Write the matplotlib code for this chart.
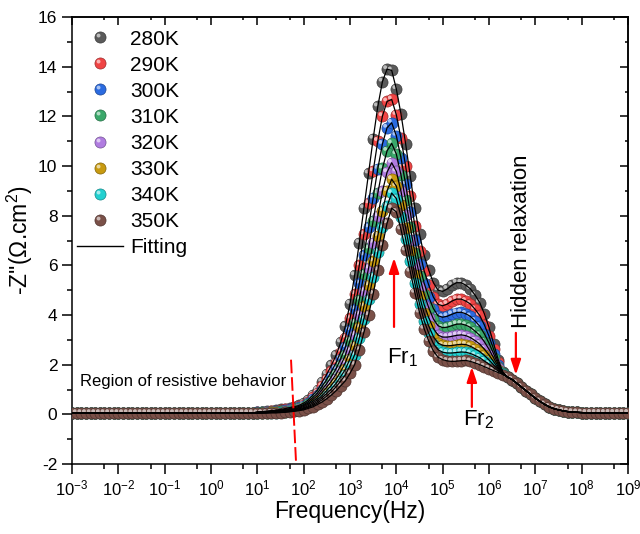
import matplotlib
matplotlib.use('Agg')
import matplotlib.pyplot as plt
import numpy as np
from matplotlib.path import Path
from matplotlib.lines import Line2D
from matplotlib.legend_handler import HandlerTuple
from matplotlib.ticker import LogLocator, NullFormatter, MultipleLocator, LogFormatterSciNotation
from matplotlib.colors import to_rgb

plt.rcParams['font.family'] = ['Liberation Sans', 'DejaVu Sans']
plt.rcParams['mathtext.fontset'] = 'custom'
plt.rcParams['mathtext.rm'] = 'Liberation Sans'
plt.rcParams['mathtext.it'] = 'Liberation Sans:italic'
plt.rcParams['axes.unicode_minus'] = False

# frequency sweep: 10 points per decade, 1e-3 .. 1e9 Hz
freq = 10.0 ** (np.arange(-30, 91) / 10)

# resistive region (1e-3 .. 10^0.9 Hz), same for every temperature
baseline = [0.05] * 40

# 10^1.0 .. 10^6.3 Hz
mid = {
    '280K': [0.10, 0.11, 0.13, 0.15, 0.17, 0.20, 0.23, 0.27, 0.30, 0.36,
             0.45, 0.58, 0.78, 0.98, 1.30, 1.62, 1.98, 2.38, 2.90, 3.55,
             4.45, 5.60, 6.90, 8.30, 9.70, 11.10, 12.40, 13.40, 13.90, 13.85,
             13.10, 12.10, 10.90, 9.60, 8.30, 7.25, 6.40, 5.80, 5.30, 5.00,
             4.95, 5.05, 5.20, 5.30, 5.30, 5.20, 5.05, 4.80, 4.50, 4.05,
             3.50, 2.85, 2.20, 1.70],
    '290K': [0.09, 0.10, 0.11, 0.13, 0.15, 0.17, 0.20, 0.23, 0.26, 0.32,
             0.39, 0.51, 0.68, 0.86, 1.13, 1.41, 1.73, 2.08, 2.53, 3.09,
             3.86, 4.84, 6.00, 7.25, 8.50, 9.79, 11.01, 12.01, 12.60, 12.68,
             12.06, 11.12, 10.00, 8.79, 7.59, 6.59, 5.78, 5.20, 4.72, 4.43,
             4.37, 4.44, 4.56, 4.64, 4.64, 4.56, 4.44, 4.23, 3.98, 3.60,
             3.15, 2.62, 2.09, 1.68],
    '300K': [0.08, 0.08, 0.10, 0.11, 0.13, 0.15, 0.17, 0.21, 0.23, 0.28,
             0.35, 0.45, 0.60, 0.76, 1.00, 1.24, 1.52, 1.84, 2.24, 2.71,
             3.39, 4.23, 5.27, 6.40, 7.53, 8.73, 9.89, 10.89, 11.54, 11.74,
             11.22, 10.33, 9.27, 8.14, 7.01, 6.05, 5.28, 4.72, 4.26, 3.97,
             3.91, 3.95, 4.03, 4.10, 4.11, 4.05, 3.94, 3.76, 3.55, 3.24,
             2.87, 2.44, 2.00, 1.66],
    '310K': [0.07, 0.08, 0.09, 0.10, 0.11, 0.13, 0.15, 0.18, 0.21, 0.25,
             0.31, 0.40, 0.53, 0.67, 0.88, 1.10, 1.34, 1.62, 1.97, 2.38,
             2.97, 3.69, 4.62, 5.65, 6.68, 7.79, 8.90, 9.90, 10.61, 10.91,
             10.48, 9.64, 8.62, 7.56, 6.50, 5.58, 4.84, 4.29, 3.84, 3.57,
             3.49, 3.51, 3.57, 3.63, 3.64, 3.59, 3.50, 3.35, 3.18, 2.92,
             2.62, 2.27, 1.92, 1.65],
    '320K': [0.06, 0.07, 0.08, 0.09, 0.10, 0.11, 0.13, 0.16, 0.18, 0.22,
             0.27, 0.35, 0.46, 0.59, 0.76, 0.96, 1.18, 1.42, 1.73, 2.08,
             2.57, 3.19, 4.02, 4.95, 5.88, 6.91, 7.98, 8.98, 9.75, 10.13,
             9.78, 8.98, 8.02, 7.02, 6.02, 5.14, 4.42, 3.89, 3.46, 3.19,
             3.11, 3.11, 3.14, 3.18, 3.20, 3.17, 3.09, 2.97, 2.83, 2.62,
             2.39, 2.12, 1.85, 1.63],
    '330K': [0.05, 0.06, 0.07, 0.08, 0.08, 0.10, 0.11, 0.14, 0.16, 0.19,
             0.24, 0.31, 0.40, 0.52, 0.67, 0.84, 1.03, 1.25, 1.52, 1.81,
             2.24, 2.76, 3.50, 4.35, 5.20, 6.16, 7.19, 8.19, 9.00, 9.47,
             9.19, 8.43, 7.50, 6.56, 5.61, 4.76, 4.07, 3.55, 3.13, 2.87,
             2.78, 2.76, 2.77, 2.80, 2.82, 2.81, 2.74, 2.64, 2.53, 2.37,
             2.19, 1.99, 1.79, 1.62],
    '340K': [0.05, 0.05, 0.06, 0.07, 0.07, 0.08, 0.10, 0.12, 0.14, 0.17,
             0.21, 0.28, 0.35, 0.46, 0.59, 0.74, 0.91, 1.11, 1.34, 1.59,
             1.96, 2.40, 3.07, 3.85, 4.63, 5.54, 6.53, 7.53, 8.38, 8.91,
             8.69, 7.96, 7.07, 6.17, 5.27, 4.45, 3.77, 3.26, 2.85, 2.60,
             2.50, 2.47, 2.47, 2.49, 2.51, 2.50, 2.45, 2.37, 2.28, 2.15,
             2.02, 1.88, 1.74, 1.61],
    '350K': [0.04, 0.05, 0.05, 0.06, 0.06, 0.07, 0.08, 0.10, 0.12, 0.15,
             0.18, 0.24, 0.30, 0.40, 0.50, 0.63, 0.78, 0.95, 1.15, 1.35,
             1.65, 2.00, 2.60, 3.30, 4.00, 4.85, 5.80, 6.80, 7.70, 8.30,
             8.15, 7.45, 6.60, 5.75, 4.90, 4.10, 3.45, 2.95, 2.55, 2.30,
             2.20, 2.15, 2.13, 2.14, 2.16, 2.17, 2.13, 2.07, 2.00, 1.92,
             1.84, 1.76, 1.68, 1.60],
}

# 10^6.4 .. 10^9 Hz, curves merge here
tail = [1.50, 1.40, 1.25, 1.10, 0.95, 0.80, 0.65, 0.52, 0.40, 0.30,
        0.23, 0.18, 0.14, 0.11, 0.09, 0.08, 0.07,
        0.06, 0.06, 0.06, 0.06, 0.06, 0.06, 0.06, 0.06, 0.06, 0.06]

temps = ['280K', '290K', '300K', '310K', '320K', '330K', '340K', '350K']
colors = ['#5a5a5a', '#f04444', '#2b6be0', '#3aa86a', '#b07ce0', '#c89a10', '#22d0d0', '#7a5048']


def mix(c, other, t):
    c = np.array(to_rgb(c))
    o = np.array(to_rgb(other))
    return tuple(c * (1 - t) + o * t)


# small offset circle used as the sphere highlight
hl_path = Path.circle(center=(-0.35, 0.35), radius=0.35)

fig = plt.figure(figsize=(6.4, 5.34), dpi=100)
ax = fig.add_axes([72 / 640, 1 - 464 / 534, 556 / 640, 447 / 534])

S = 64
for i, (t, c) in enumerate(zip(temps, colors)):
    z = np.array(baseline + mid[t] + tail)
    ax.scatter(freq, z, s=S, color=c, edgecolors=mix(c, 'black', 0.35),
               linewidths=0.5, zorder=2 + i * 0.1)
    ax.scatter(freq, z, s=S * 0.49, marker=hl_path, color=mix(c, 'white', 0.6),
               edgecolors='none', zorder=2.05 + i * 0.1)

for t in temps:
    z = np.array(baseline + mid[t] + tail)
    ax.plot(freq, z, color='black', lw=0.9, zorder=5)

ax.set_xscale('log')
ax.set_xlim(1e-3, 1e9)
ax.set_ylim(-2, 16)
ax.xaxis.set_major_locator(LogLocator(base=10, numticks=20))
ax.xaxis.set_minor_locator(LogLocator(base=10, subs=[5.0], numticks=20))
ax.xaxis.set_minor_formatter(NullFormatter())
ax.xaxis.set_major_formatter(LogFormatterSciNotation())
ax.yaxis.set_major_locator(MultipleLocator(2))
ax.yaxis.set_minor_locator(MultipleLocator(1))

for sp in ax.spines.values():
    sp.set_linewidth(1.1)
ax.tick_params(which='major', direction='out', length=7, width=1.1, labelsize=12.5)
ax.tick_params(axis='x', which='major', labelsize=12)
ax.tick_params(which='minor', direction='out', length=3.5, width=1.1)

top = ax.secondary_xaxis('top')
top.xaxis.set_major_locator(LogLocator(base=10, numticks=20))
top.xaxis.set_minor_locator(LogLocator(base=10, subs=[5.0], numticks=20))
top.tick_params(which='major', direction='in', length=5.5, width=1.1, labeltop=False)
top.tick_params(which='minor', direction='in', length=2.5, width=1.1)
top.spines['top'].set_linewidth(1.1)
right = ax.secondary_yaxis('right')
right.yaxis.set_major_locator(MultipleLocator(2))
right.yaxis.set_minor_locator(MultipleLocator(1))
right.tick_params(which='major', direction='in', length=5.5, width=1.1, labelright=False)
right.tick_params(which='minor', direction='in', length=2.5, width=1.1)
right.spines['right'].set_linewidth(1.1)

ax.set_xlabel('Frequency(Hz)', fontsize=16.5, labelpad=1)
ax.set_ylabel("-Z''(Ω.cm$^2$)", fontsize=16.5, labelpad=2)

# annotations
ax.text(10 ** -2.83, 1.32, 'Region of resistive behavior', fontsize=12, ha='left', va='center')
ax.plot([10 ** 1.727, 10 ** 1.835], [2.2, -1.92], color='red', lw=1.4, dashes=(7, 2), zorder=6)

arrow = dict(arrowstyle='-|>,head_width=0.3,head_length=0.9', color='red', lw=1.6,
             shrinkA=0, shrinkB=0, mutation_scale=10)
ax.annotate('', xy=(10 ** 3.95, 6.3), xytext=(10 ** 3.95, 3.52), arrowprops=arrow, zorder=7)
ax.annotate('', xy=(10 ** 5.63, 1.91), xytext=(10 ** 5.63, 0.3), arrowprops=arrow, zorder=7)
ax.annotate('', xy=(10 ** 6.58, 1.59), xytext=(10 ** 6.58, 3.28), arrowprops=arrow, zorder=7)
ax.text(10 ** 3.79, 2.07, 'Fr$_1$', fontsize=16, ha='left', va='baseline')
ax.text(10 ** 5.44, -0.43, 'Fr$_2$', fontsize=16, ha='left', va='baseline')
ax.text(10 ** 6.82, 3.48, 'Hidden relaxation', fontsize=16, rotation=90,
        rotation_mode='anchor', ha='left', va='baseline')

# legend
handles = []
for c in colors:
    body = Line2D([], [], ls='none', marker='o', ms=8, mfc=c, mec=mix(c, 'black', 0.35), mew=0.5)
    shine = Line2D([], [], ls='none', marker=hl_path, ms=8 * 0.7, mfc=mix(c, 'white', 0.6), mec='none')
    handles.append((body, shine))
handles.append(Line2D([], [], color='black', lw=1.0))
ax.legend(handles, temps + ['Fitting'], handler_map={tuple: HandlerTuple(ndivide=1, pad=0)},
          loc='upper left', bbox_to_anchor=(0.009, 0.972), frameon=False, fontsize=15,
          labelspacing=0.34, handlelength=2.2, handletextpad=0.35, borderpad=0, borderaxespad=0)

fig.savefig('out.png', dpi=100)
